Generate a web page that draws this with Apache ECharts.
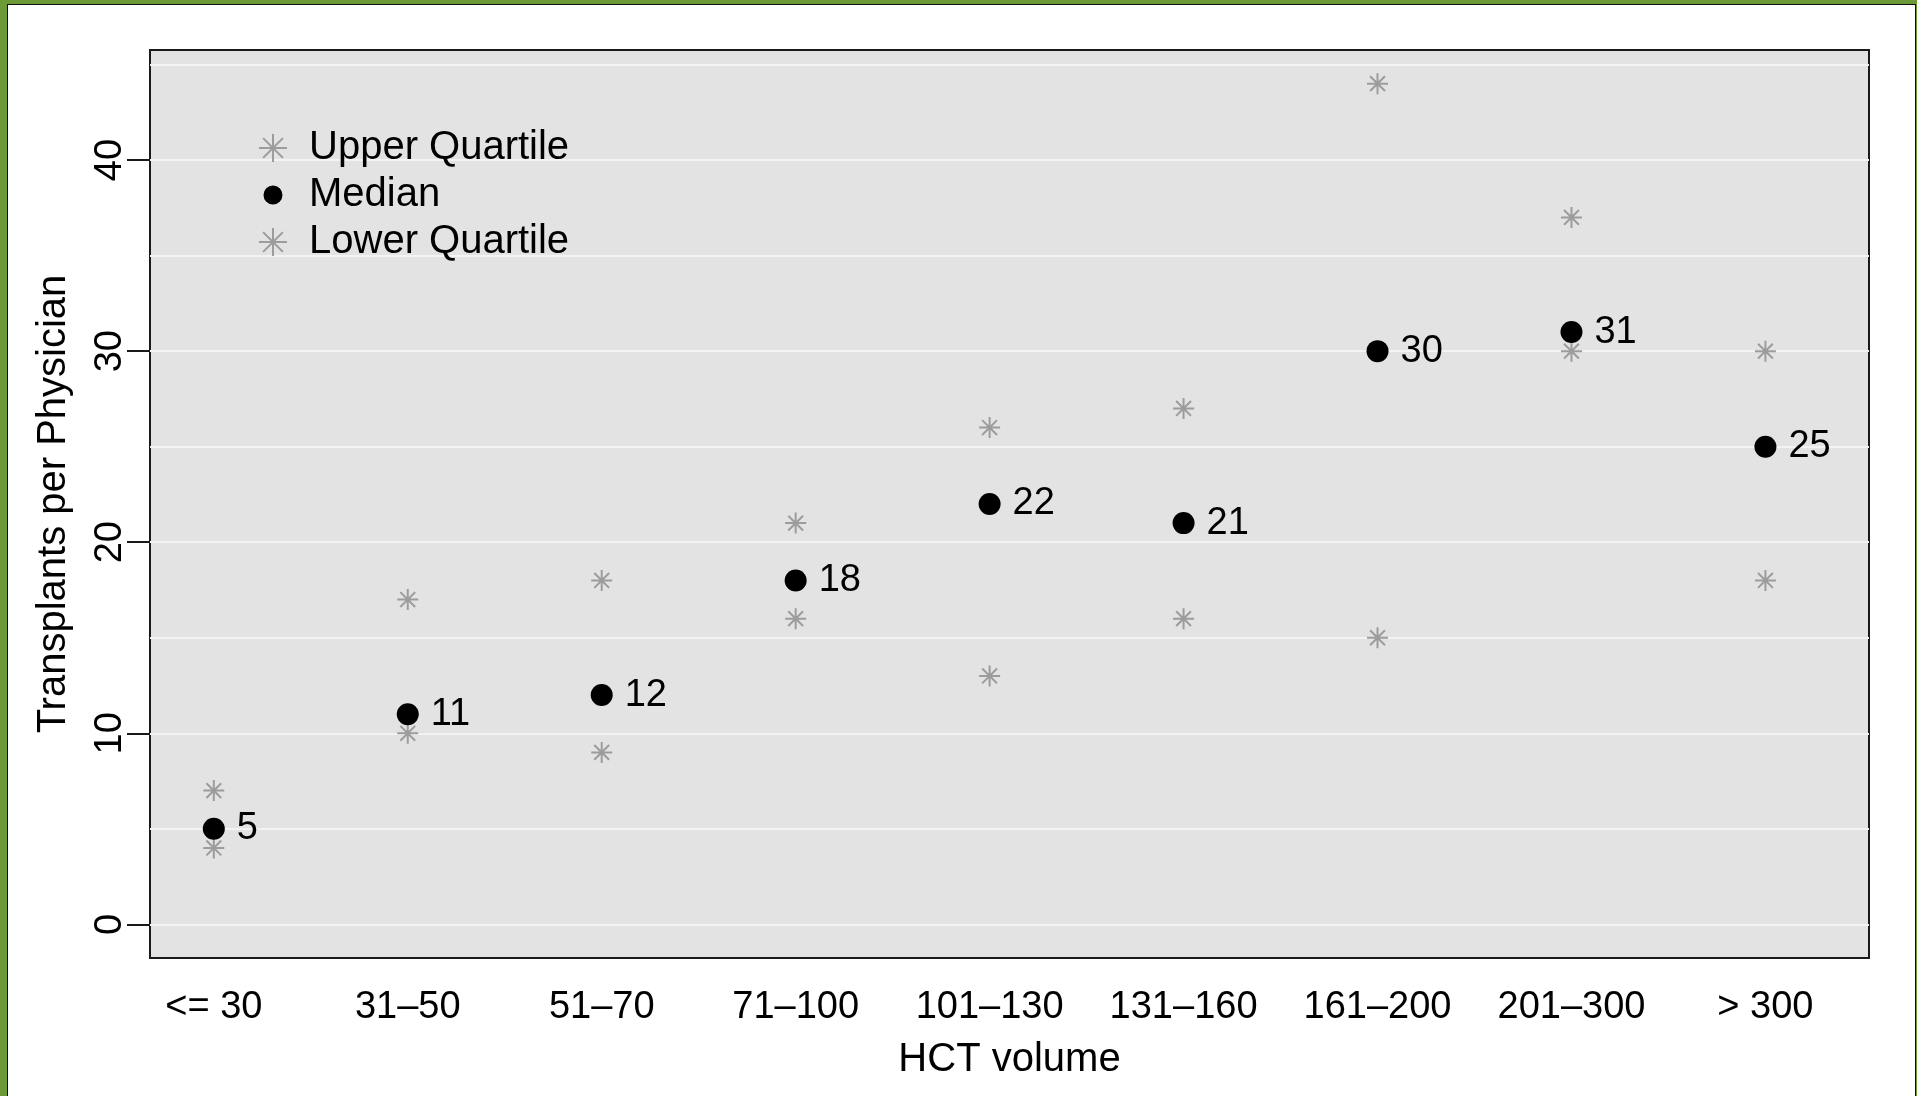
<!DOCTYPE html>
<html>
<head>
<meta charset="utf-8">
<script src="https://cdn.jsdelivr.net/npm/echarts@6/dist/echarts.min.js"></script>
<style>
html,body{margin:0;padding:0;width:1917px;height:1096px;overflow:hidden;background:#6b9a36;}
#frame{position:absolute;left:7px;top:4px;width:1909px;height:1200px;box-sizing:border-box;background:#fff;border:1px solid #111;}
#chart{position:absolute;left:0;top:0;width:1917px;height:1096px;}
</style>
</head>
<body>
<div id="frame"></div>
<div id="chart"></div>
<script>
const categories = ['<= 30','31\u201350','51\u201370','71\u2013100','101\u2013130','131\u2013160','161\u2013200','201\u2013300','> 300'];
const upperQuartile = [7, 17, 18, 21, 26, 27, 44, 37, 30];
const median = [5, 11, 12, 18, 22, 21, 30, 31, 25];
const lowerQuartile = [4, 10, 9, 16, 13, 16, 15, 30, 18];
const yTicks = [0, 10, 20, 30, 40];
const gridValues = [0, 5, 10, 15, 20, 25, 30, 35, 40, 45];

const FONT = '"Liberation Sans", Arial, Helvetica, sans-serif';
const FS = 38;
const FS_BIG = 40;
const xPos = categories.map((c, i) => i + 1);
const toPairs = arr => arr.map((v, i) => [xPos[i], v]);
const star = 'path://M10 0L10 20M0 10L20 10M2.93 2.93L17.07 17.07M2.93 17.07L17.07 2.93';
const legendDot = 'path://M0 0ZM28 28ZM14 4.5A9.5 9.5 0 1 1 13.99 4.5Z';
const grey = '#9c9c9c';

const chart = echarts.init(document.getElementById('chart'), null, {renderer: 'canvas'});
chart.setOption({
  animation: false,
  backgroundColor: 'transparent',
  textStyle: {fontFamily: FONT},
  grid: {
    left: 150, top: 50, right: 48, bottom: 138,
    show: true, backgroundColor: '#e3e3e3', borderColor: '#1a1a1a', borderWidth: 2
  },
  legend: {
    orient: 'vertical', left: 253, top: 121,
    itemWidth: 30, itemHeight: 28, itemGap: 3,
    textStyle: {fontFamily: FONT, fontSize: FS_BIG, color: '#000', padding: [0, 0, 0, 16], lineHeight: 44},
    data: [
      {name: 'Upper Quartile'},
      {name: 'Median', icon: legendDot},
      {name: 'Lower Quartile'}
    ]
  },
  xAxis: {
    type: 'value', min: 0.671, max: 9.534,
    axisLine: {show: false},
    splitLine: {show: false},
    axisTick: {show: false},
    axisLabel: {
      customValues: xPos, margin: 31,
      fontFamily: FONT, fontSize: FS, color: '#000',
      formatter: v => categories[Math.round(v) - 1] || ''
    },
    name: 'HCT volume', nameLocation: 'middle', nameGap: 82,
    nameTextStyle: {fontFamily: FONT, fontSize: FS_BIG, color: '#000'}
  },
  yAxis: {
    type: 'value', min: -1.76, max: 45.76,
    axisLine: {show: false},
    splitLine: {show: false},
    axisTick: {show: true, customValues: yTicks, length: 23, lineStyle: {color: '#1a1a1a', width: 2}},
    axisLabel: {
      customValues: yTicks, rotate: 90, margin: 20,
      fontFamily: FONT, fontSize: FS, color: '#000'
    },
    name: 'Transplants per Physician', nameLocation: 'middle', nameGap: 76,
    nameTextStyle: {fontFamily: FONT, fontSize: FS_BIG, color: '#000'}
  },
  series: [
    {
      name: 'Upper Quartile', type: 'scatter', data: toPairs(upperQuartile),
      symbol: star, symbolSize: 21, z: 2,
      itemStyle: {color: grey, borderColor: grey, borderWidth: 2, opacity: 1},
      markLine: {
        silent: true, symbol: 'none', z: 1, animation: false,
        label: {show: false},
        lineStyle: {color: '#f3f3f3', width: 2, type: 'solid'},
        data: gridValues.map(v => ({yAxis: v}))
      }
    },
    {
      name: 'Median', type: 'scatter', data: toPairs(median),
      symbol: 'circle', symbolSize: 22, z: 4,
      itemStyle: {color: '#000', opacity: 1},
      label: {
        show: true, position: 'right', distance: 12, offset: [0, 0],
        fontFamily: FONT, fontSize: FS, color: '#000',
        formatter: p => String(p.value[1])
      }
    },
    {
      name: 'Lower Quartile', type: 'scatter', data: toPairs(lowerQuartile),
      symbol: star, symbolSize: 21, z: 2,
      itemStyle: {color: grey, borderColor: grey, borderWidth: 2, opacity: 1}
    }
  ]
});
</script>
</body>
</html>
